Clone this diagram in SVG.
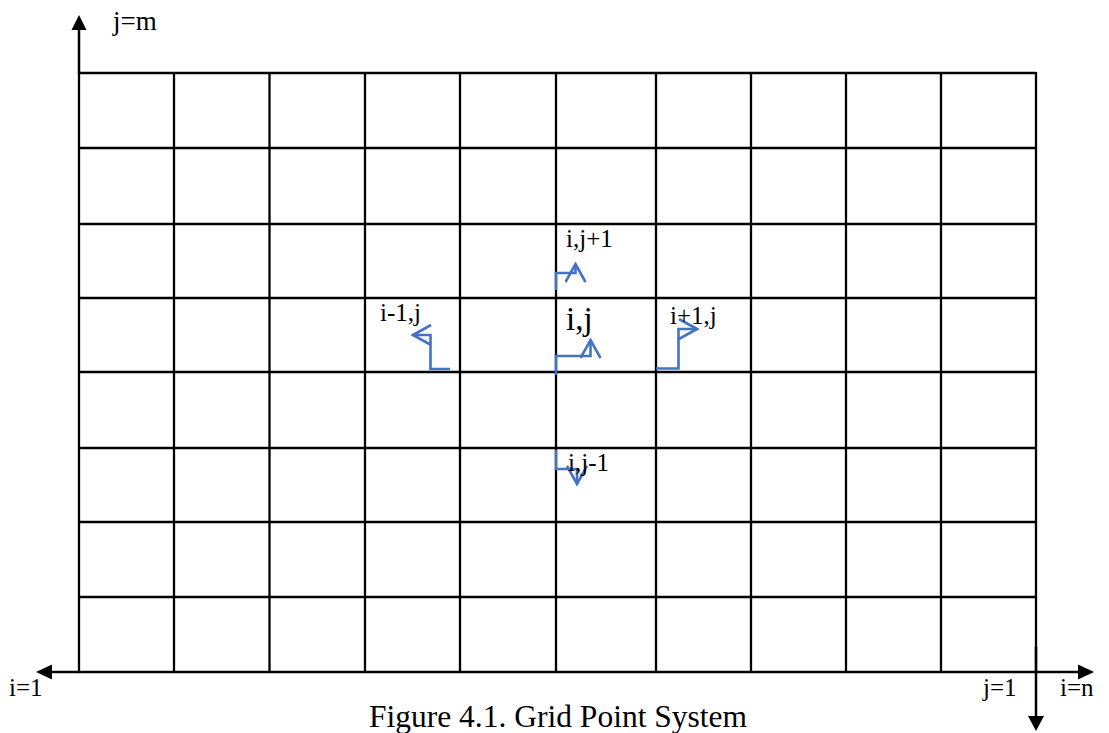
<svg xmlns="http://www.w3.org/2000/svg" width="1109" height="733" viewBox="0 0 1109 733">
<defs>
<style>
.grid line{stroke:#000;stroke-width:2.3}
.ax{stroke:#000;stroke-width:2.5;fill:none}
.bl{stroke:#4472C4;stroke-width:2.6;fill:none;stroke-linejoin:miter}
text{font-family:"Liberation Serif","Times New Roman",serif;fill:#000}
.lb{font-size:25px}
.big{font-size:33px}
.cap{font-size:31.5px}
</style>
<marker id="open" viewBox="-20 -11 22 22" markerWidth="22" markerHeight="22" refX="0" refY="0" orient="auto" markerUnits="userSpaceOnUse">
<path d="M-18,-10 L0,0 L-18,10" fill="none" stroke="#4472C4" stroke-width="2.6"/>
</marker>
</defs>
<rect width="1109" height="733" fill="#fff"/>
<g id="grid" class="grid">
<line x1="78" y1="73" x2="1036" y2="73"/>
<line x1="78" y1="148" x2="1036" y2="148"/>
<line x1="78" y1="224" x2="1036" y2="224"/>
<line x1="78" y1="298" x2="1036" y2="298"/>
<line x1="78" y1="372" x2="1036" y2="372"/>
<line x1="78" y1="448" x2="1036" y2="448"/>
<line x1="78" y1="522" x2="1036" y2="522"/>
<line x1="78" y1="597" x2="1036" y2="597"/>
<line x1="78" y1="672" x2="1036" y2="672"/>
<line x1="79" y1="72" x2="79" y2="673"/>
<line x1="174" y1="72" x2="174" y2="673"/>
<line x1="269.5" y1="72" x2="269.5" y2="673"/>
<line x1="365" y1="72" x2="365" y2="673"/>
<line x1="460" y1="72" x2="460" y2="673"/>
<line x1="556" y1="72" x2="556" y2="673"/>
<line x1="656" y1="72" x2="656" y2="673"/>
<line x1="751" y1="72" x2="751" y2="673"/>
<line x1="846" y1="72" x2="846" y2="673"/>
<line x1="941" y1="72" x2="941" y2="673"/>
<line x1="1036" y1="72" x2="1036" y2="673"/>
</g>
<g id="axes">
<line class="ax" x1="79" y1="73" x2="79" y2="29"/>
<polygon points="79,15 71.5,30 86.5,30" fill="#000"/>
<line class="ax" x1="79" y1="672" x2="51" y2="672"/>
<polygon points="36,672 52,664.5 52,679.5" fill="#000"/>
<line class="ax" x1="1036" y1="672" x2="1079" y2="672"/>
<polygon points="1094,672 1078,664.5 1078,679.5" fill="#000"/>
<line class="ax" x1="1036" y1="647" x2="1036" y2="717"/>
<polygon points="1036,731 1028,716 1044,716" fill="#000"/>
</g>
<g id="connectors">
<path class="bl" d="M556,375 V356 H590.5 V340" marker-end="url(#open)"/>
<path class="bl" d="M556,290 V273 H575.5 V264" marker-end="url(#open)"/>
<path class="bl" d="M656,368.5 H678.5 V329 H697" marker-end="url(#open)"/>
<path class="bl" d="M450,369 H430.5 V335 H413" marker-end="url(#open)"/>
<path class="bl" d="M556,450 V469 H577 V484" marker-end="url(#open)"/>
</g>
<g id="labels">
<text class="lb" x="113" y="30" style="font-size:27px">j=m</text>
<text class="lb" x="9" y="696">i=1</text>
<text class="lb" x="983" y="696">j=1</text>
<text class="lb" x="1060" y="696">i=n</text>
<text class="lb" x="566" y="247">i,j+1</text>
<text class="lb" x="380" y="321">i-1,j</text>
<text class="big" x="566" y="330">i,j</text>
<text class="lb" x="670" y="324">i+1,j</text>
<text class="lb" x="568" y="471">i,j-1</text>
<text class="cap" x="369" y="727">Figure 4.1. Grid Point System</text>
</g>
</svg>
